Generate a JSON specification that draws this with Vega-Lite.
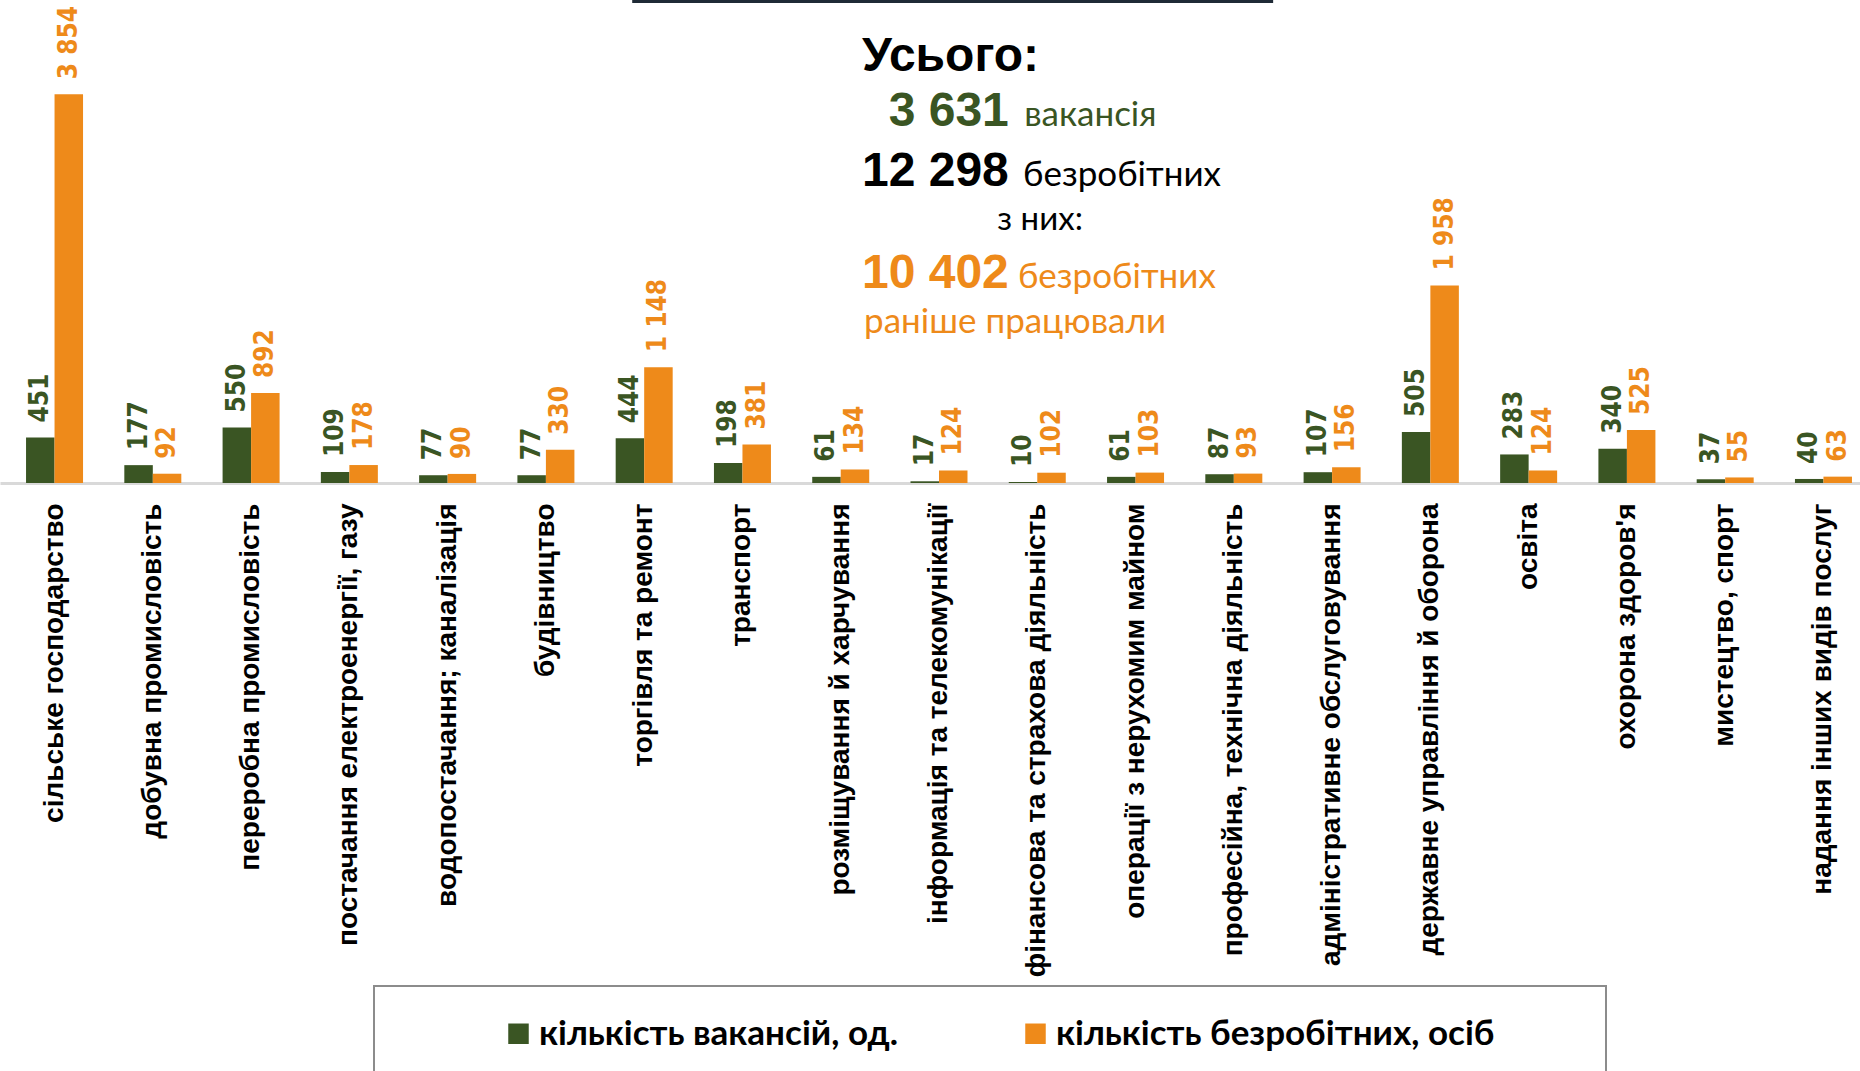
{
  "$schema": "https://vega.github.io/schema/vega-lite/v6.json",
  "width": 1860,
  "height": 483,
  "autosize": {"type": "none"},
  "padding": {"left": 0, "top": 0, "right": 0, "bottom": 588},
  "background": "white",
  "config": {
    "view": {"stroke": null},
    "locale": {"number": {"decimal": ",", "thousands": " ", "grouping": [3], "currency": ["", ""]}}
  },
  "datasets": {
    "main": [
      {"category": "сільське господарство", "series": "кількість вакансій, од.", "value": 451},
      {"category": "сільське господарство", "series": "кількість безробітних, осіб", "value": 3854},
      {"category": "добувна промисловість", "series": "кількість вакансій, од.", "value": 177},
      {"category": "добувна промисловість", "series": "кількість безробітних, осіб", "value": 92},
      {"category": "переробна промисловість", "series": "кількість вакансій, од.", "value": 550},
      {"category": "переробна промисловість", "series": "кількість безробітних, осіб", "value": 892},
      {"category": "постачання електроенергії, газу", "series": "кількість вакансій, од.", "value": 109},
      {"category": "постачання електроенергії, газу", "series": "кількість безробітних, осіб", "value": 178},
      {"category": "водопостачання; каналізація", "series": "кількість вакансій, од.", "value": 77},
      {"category": "водопостачання; каналізація", "series": "кількість безробітних, осіб", "value": 90},
      {"category": "будівництво", "series": "кількість вакансій, од.", "value": 77},
      {"category": "будівництво", "series": "кількість безробітних, осіб", "value": 330},
      {"category": "торгівля та ремонт", "series": "кількість вакансій, од.", "value": 444},
      {"category": "торгівля та ремонт", "series": "кількість безробітних, осіб", "value": 1148},
      {"category": "транспорт", "series": "кількість вакансій, од.", "value": 198},
      {"category": "транспорт", "series": "кількість безробітних, осіб", "value": 381},
      {"category": "розміщування й харчування", "series": "кількість вакансій, од.", "value": 61},
      {"category": "розміщування й харчування", "series": "кількість безробітних, осіб", "value": 134},
      {"category": "інформація та телекомунікації", "series": "кількість вакансій, од.", "value": 17},
      {"category": "інформація та телекомунікації", "series": "кількість безробітних, осіб", "value": 124},
      {"category": "фінансова та страхова діяльність", "series": "кількість вакансій, од.", "value": 10},
      {"category": "фінансова та страхова діяльність", "series": "кількість безробітних, осіб", "value": 102},
      {"category": "операції з нерухомим майном", "series": "кількість вакансій, од.", "value": 61},
      {"category": "операції з нерухомим майном", "series": "кількість безробітних, осіб", "value": 103},
      {"category": "професійна, технічна діяльність", "series": "кількість вакансій, од.", "value": 87},
      {"category": "професійна, технічна діяльність", "series": "кількість безробітних, осіб", "value": 93},
      {"category": "адміністративне обслуговування", "series": "кількість вакансій, од.", "value": 107},
      {"category": "адміністративне обслуговування", "series": "кількість безробітних, осіб", "value": 156},
      {"category": "державне управління й оборона", "series": "кількість вакансій, од.", "value": 505},
      {"category": "державне управління й оборона", "series": "кількість безробітних, осіб", "value": 1958},
      {"category": "освіта", "series": "кількість вакансій, од.", "value": 283},
      {"category": "освіта", "series": "кількість безробітних, осіб", "value": 124},
      {"category": "охорона здоров'я", "series": "кількість вакансій, од.", "value": 340},
      {"category": "охорона здоров'я", "series": "кількість безробітних, осіб", "value": 525},
      {"category": "мистецтво, спорт", "series": "кількість вакансій, од.", "value": 37},
      {"category": "мистецтво, спорт", "series": "кількість безробітних, осіб", "value": 55},
      {"category": "надання інших видів послуг", "series": "кількість вакансій, од.", "value": 40},
      {"category": "надання інших видів послуг", "series": "кількість безробітних, осіб", "value": 63}
    ]
  },
  "data": {"name": "main"},
  "layer": [
    {
      "mark": {"type": "bar"},
      "encoding": {
        "x": {
          "field": "category", "type": "nominal",
          "scale": {
            "domain": ["сільське господарство", "добувна промисловість", "переробна промисловість", "постачання електроенергії, газу", "водопостачання; каналізація", "будівництво", "торгівля та ремонт", "транспорт", "розміщування й харчування", "інформація та телекомунікації", "фінансова та страхова діяльність", "операції з нерухомим майном", "професійна, технічна діяльність", "адміністративне обслуговування", "державне управління й оборона", "освіта", "охорона здоров'я", "мистецтво, спорт", "надання інших видів послуг"],
            "paddingInner": 0.42, "paddingOuter": 0.265, "range": [0, 1878]
          },
          "axis": {
            "title": null, "ticks": false, "domainColor": "#d9d9d9", "domainWidth": 3,
            "labelAngle": 270, "labelFont": "Liberation Sans", "labelFontWeight": "bold",
            "labelFontSize": 28, "labelColor": "#000000", "labelPadding": 20, "labelLimit": 700
          }
        },
        "xOffset": {"field": "series", "type": "nominal", "scale": {"domain": ["кількість вакансій, од.", "кількість безробітних, осіб"], "paddingInner": 0, "paddingOuter": 0}},
        "y": {"field": "value", "type": "quantitative", "scale": {"domain": [0, 4787], "nice": false, "zero": true}, "axis": null},
        "color": {
          "field": "series", "type": "nominal",
          "scale": {"domain": ["кількість вакансій, од.", "кількість безробітних, осіб"], "range": ["#3A5523", "#EE8A1A"]},
          "legend": {
            "orient": "none", "legendX": 374, "legendY": 986, "direction": "horizontal", "columns": 2,
            "title": " ", "titleOrient": "right", "titlePadding": 82, "titleFontSize": 10,
            "symbolType": "square", "symbolSize": 420, "symbolStrokeWidth": 0, "symbolOffset": 97,
            "labelFont": "Lato", "labelFontWeight": "bold", "labelFontSize": 35,
            "labelColor": "#000000", "labelLimit": 800, "labelOffset": 3, "columnPadding": 23,
            "padding": 30, "strokeColor": "#8c8c8c",
            "encode": {"legend": {"update": {"strokeWidth": {"value": 2}}}}
          }
        }
      }
    },
    {
      "mark": {"type": "text", "angle": 270, "align": "left", "baseline": "middle", "dx": 15, "font": "DejaVu Sans Condensed", "fontWeight": "bold", "fontSize": 26},
      "encoding": {
        "x": {"field": "category", "type": "nominal"},
        "xOffset": {"field": "series", "type": "nominal"},
        "y": {"field": "value", "type": "quantitative"},
        "text": {"field": "value", "type": "quantitative", "format": ",d"},
        "color": {"field": "series", "type": "nominal", "legend": null}
      }
    },
    {
      "data": {"values": [{}]},
      "mark": {"type": "rule", "color": "#1f2a36", "strokeWidth": 6},
      "encoding": {
        "x": {"datum": "торгівля та ремонт", "type": "nominal", "bandPosition": 0.29},
        "x2": {"datum": "професійна, технічна діяльність", "bandPosition": 1.19},
        "y": {"datum": 4787, "type": "quantitative"}
      }
    },
    {
      "data": {"values": [{}]},
      "mark": {"type": "text", "text": "Усього:", "align": "left", "baseline": "alphabetic", "font": "Liberation Sans", "fontWeight": "bold", "fontSize": 48, "color": "#000000"},
      "encoding": {
        "x": {"datum": "розміщування й харчування", "type": "nominal", "bandPosition": 0.874},
        "y": {"datum": 4083, "type": "quantitative"}
      }
    },
    {
      "data": {"values": [{}]},
      "mark": {"type": "text", "text": "3 631", "align": "right", "baseline": "alphabetic", "font": "Liberation Sans", "fontWeight": "bold", "fontSize": 48, "color": "#3A5523"},
      "encoding": {
        "x": {"datum": "фінансова та страхова діяльність", "type": "nominal", "bandPosition": 0},
        "y": {"datum": 3538, "type": "quantitative"}
      }
    },
    {
      "data": {"values": [{}]},
      "mark": {"type": "text", "text": "вакансія", "align": "left", "baseline": "alphabetic", "font": "Lato", "fontSize": 35, "color": "#3A5523"},
      "encoding": {
        "x": {"datum": "фінансова та страхова діяльність", "type": "nominal", "bandPosition": 0.27},
        "y": {"datum": 3538, "type": "quantitative"}
      }
    },
    {
      "data": {"values": [{}]},
      "mark": {"type": "text", "text": "12 298", "align": "right", "baseline": "alphabetic", "font": "Liberation Sans", "fontWeight": "bold", "fontSize": 48, "color": "#000000"},
      "encoding": {
        "x": {"datum": "фінансова та страхова діяльність", "type": "nominal", "bandPosition": 0},
        "y": {"datum": 2943, "type": "quantitative"}
      }
    },
    {
      "data": {"values": [{}]},
      "mark": {"type": "text", "text": "безробітних", "align": "left", "baseline": "alphabetic", "font": "Lato", "fontSize": 35, "color": "#000000"},
      "encoding": {
        "x": {"datum": "фінансова та страхова діяльність", "type": "nominal", "bandPosition": 0.25},
        "y": {"datum": 2943, "type": "quantitative"}
      }
    },
    {
      "data": {"values": [{}]},
      "mark": {"type": "text", "text": "з них:", "align": "center", "baseline": "alphabetic", "font": "Lato", "fontSize": 33, "color": "#000000"},
      "encoding": {
        "x": {"datum": "фінансова та страхова діяльність", "type": "nominal", "bandPosition": 0.55},
        "y": {"datum": 2507, "type": "quantitative"}
      }
    },
    {
      "data": {"values": [{}]},
      "mark": {"type": "text", "text": "10 402", "align": "right", "baseline": "alphabetic", "font": "Liberation Sans", "fontWeight": "bold", "fontSize": 48, "color": "#EE8A1A"},
      "encoding": {
        "x": {"datum": "фінансова та страхова діяльність", "type": "nominal", "bandPosition": 0},
        "y": {"datum": 1933, "type": "quantitative"}
      }
    },
    {
      "data": {"values": [{}]},
      "mark": {"type": "text", "text": "безробітних", "align": "left", "baseline": "alphabetic", "font": "Lato", "fontSize": 35, "color": "#EE8A1A"},
      "encoding": {
        "x": {"datum": "фінансова та страхова діяльність", "type": "nominal", "bandPosition": 0.16},
        "y": {"datum": 1933, "type": "quantitative"}
      }
    },
    {
      "data": {"values": [{}]},
      "mark": {"type": "text", "text": "раніше працювали", "align": "left", "baseline": "alphabetic", "font": "Lato", "fontSize": 35, "color": "#EE8A1A"},
      "encoding": {
        "x": {"datum": "розміщування й харчування", "type": "nominal", "bandPosition": 0.91},
        "y": {"datum": 1487, "type": "quantitative"}
      }
    }
  ]
}
